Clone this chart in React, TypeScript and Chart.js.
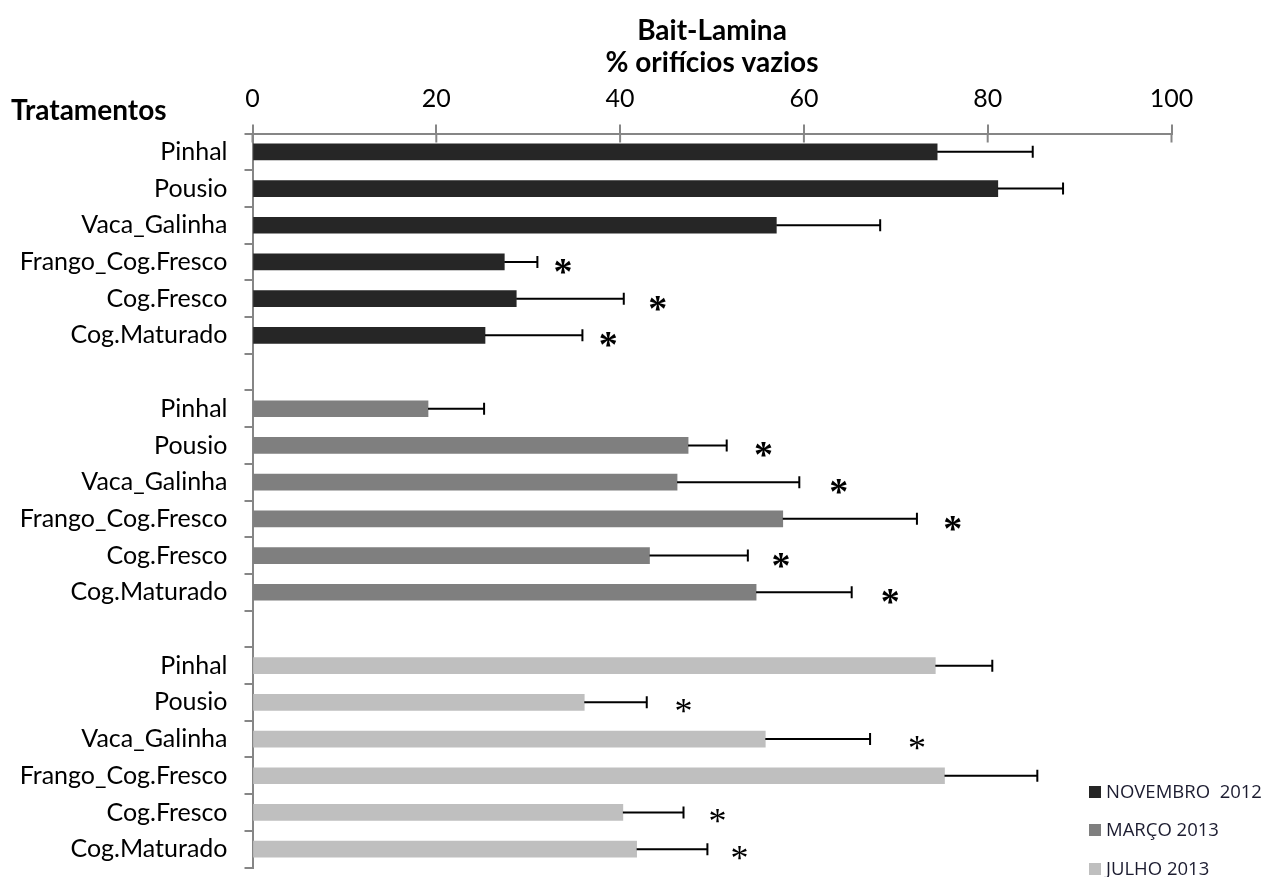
import React, { useEffect, useRef } from 'react';
import { Chart, registerables } from 'chart.js';

Chart.register(...registerables);

// ---- data ----
const treatments = ['Pinhal', 'Pousio', 'Vaca_Galinha', 'Frango_Cog.Fresco', 'Cog.Fresco', 'Cog.Maturado'];
const seriesNames = ['NOVEMBRO  2012', 'MARÇO 2013', 'JULHO 2013'];
const seriesColors = ['#262626', '#7f7f7f', '#bfbfbf'];

const nov2012 = [74.5, 81.1, 57.0, 27.4, 28.7, 25.3];
const nov2012Err = [10.4, 7.1, 11.3, 3.6, 11.7, 10.6];
const mar2013 = [19.1, 47.4, 46.2, 57.7, 43.2, 54.8];
const mar2013Err = [6.1, 4.2, 13.3, 14.6, 10.7, 10.4];
const jul2013 = [74.3, 36.1, 55.8, 75.3, 40.3, 41.8];
const jul2013Err = [6.2, 6.8, 11.4, 10.1, 6.6, 7.7];

// x position (in % units) of the significance asterisk, null = none
const nov2012Stars = [null, null, null, 33.8, 44.1, 38.7];
const mar2013Stars = [null, 55.6, 63.8, 76.2, 57.5, 69.4];
const jul2013Stars = [null, 46.9, 72.3, null, 50.6, 53.0];

const xTicks = [0, 20, 40, 60, 80, 100];
const titleLines = ['Bait-Lamina', '% orifícios vazios'];
const yAxisTitle = 'Tratamentos';

// ---- derived table ----
const labels = [...treatments, '', ...treatments, '', ...treatments];
const gap = [null];
const blank = treatments.map(() => null);
const pad = (arr: any[], group: number) => {
  const parts = [blank, blank, blank];
  parts[group] = arr;
  return [...parts[0], ...gap, ...parts[1], ...gap, ...parts[2]];
};
const seriesValues = [nov2012, mar2013, jul2013];
const seriesErrors = [nov2012Err, mar2013Err, jul2013Err];
const seriesStars = [nov2012Stars, mar2013Stars, jul2013Stars];

const FONT = 'Lato';
const AXIS_COLOR = '#868686';

const decorPlugin = {
  id: 'decor',
  afterDatasetsDraw(chart: any) {
    const ctx = chart.ctx;
    const xs = chart.scales.x;
    ctx.save();
    ctx.strokeStyle = '#000';
    ctx.lineWidth = 2;
    chart.data.datasets.forEach((ds: any, i: number) => {
      const meta = chart.getDatasetMeta(i);
      meta.data.forEach((bar: any, j: number) => {
        const v = ds.data[j];
        const e = ds.errors[j];
        if (v == null || e == null) return;
        const x1 = xs.getPixelForValue(v + e);
        ctx.beginPath();
        ctx.moveTo(bar.x, bar.y);
        ctx.lineTo(x1, bar.y);
        ctx.moveTo(x1, bar.y - 6);
        ctx.lineTo(x1, bar.y + 6);
        ctx.stroke();
      });
    });
    ctx.restore();
  },
  afterDraw(chart: any) {
    const ctx = chart.ctx;
    const xs = chart.scales.x;
    const ys = chart.scales.y;
    const area = chart.chartArea;
    ctx.save();
    // downward part of cross tick marks on the x axis
    ctx.strokeStyle = AXIS_COLOR;
    ctx.lineWidth = 2;
    xTicks.forEach((t) => {
      const x = xs.getPixelForValue(t);
      ctx.beginPath();
      ctx.moveTo(x, area.top);
      ctx.lineTo(x, area.top + 9);
      ctx.stroke();
    });
    // title
    ctx.fillStyle = '#000';
    ctx.textAlign = 'center';
    ctx.textBaseline = 'middle';
    ctx.font = `bold 28px ${FONT}`;
    const cx = (area.left + area.right) / 2;
    ctx.fillText(titleLines[0], cx, 31);
    ctx.fillText(titleLines[1], cx, 63);
    // y axis title
    ctx.textAlign = 'left';
    ctx.fillText(yAxisTitle, 11, 111);
    // asterisks
    chart.data.datasets.forEach((ds: any, i: number) => {
      ds.stars.forEach((s: any, j: number) => {
        if (s == null) return;
        const y = ys.getPixelForValue(j) + 4;
        const x = xs.getPixelForValue(s);
        ctx.font = i === 2 ? `36px "Liberation Serif"` : `bold 38px "Liberation Serif"`;
        ctx.textAlign = 'center';
        ctx.textBaseline = 'alphabetic';
        ctx.fillText('*', x, y + (i === 2 ? 17 : 18));
      });
    });
    // legend
    ctx.textAlign = 'left';
    ctx.textBaseline = 'middle';
    ctx.font = `18.5px "Open Sans"`;
    const legY = [792, 830, 869];
    seriesNames.forEach((n, i) => {
      ctx.fillStyle = seriesColors[i];
      ctx.fillRect(1089, legY[i] - 6, 12, 12);
      ctx.fillStyle = '#1c1c30';
      ctx.fillText(n, 1106, legY[i] + 1);
    });
    ctx.restore();
  },
};

export default function App() {
  const ref = useRef<HTMLCanvasElement | null>(null);
  useEffect(() => {
    if (!ref.current) return;
    const chart = new Chart(ref.current, {
      type: 'bar',
      data: {
        labels,
        datasets: seriesValues.map((vals, i) => ({
          label: seriesNames[i],
          data: pad(vals, i),
          errors: pad(seriesErrors[i], i),
          stars: pad(seriesStars[i], i),
          backgroundColor: seriesColors[i],
          borderWidth: 0,
          barThickness: 16,
          grouped: false,
        })) as any,
      },
      options: {
        indexAxis: 'y',
        responsive: false,
        animation: false,
        devicePixelRatio: 1,
        layout: { padding: { top: 73.5, right: 97.5, bottom: 9.5, left: 0 } },
        plugins: { legend: { display: false }, title: { display: false }, tooltip: { enabled: false } },
        scales: {
          x: {
            type: 'linear',
            position: 'top',
            min: 0,
            max: 100,
            afterBuildTicks: (s: any) => { s.ticks = xTicks.map((v) => ({ value: v })); },
            ticks: { color: '#000', font: { family: FONT, size: 25 }, padding: 11 },
            grid: { drawOnChartArea: false, drawTicks: true, tickLength: 9, color: AXIS_COLOR, lineWidth: 2 },
            border: { color: AXIS_COLOR, width: 2 },
            afterFit: (s: any) => { s.height = 60; s.paddingLeft = 0; s.paddingRight = 0; },
          },
          y: {
            type: 'category',
            position: 'left',
            ticks: { autoSkip: false, color: '#000', font: { family: FONT, size: 25 }, padding: 17 },
            grid: { drawOnChartArea: false, drawTicks: true, tickLength: 8, color: AXIS_COLOR, lineWidth: 2, offset: true },
            border: { color: AXIS_COLOR, width: 2 },
            afterFit: (s: any) => { s.width = 252.5; s.paddingTop = 0; s.paddingBottom = 0; },
          },
        },
      } as any,
      plugins: [decorPlugin],
    });
    return () => chart.destroy();
  }, []);
  return (
    <div style={{ position: 'absolute', left: 0, top: 0, width: 1269, height: 877, background: '#fff' }}>
      <canvas ref={ref} width={1269} height={877} />
    </div>
  );
}
